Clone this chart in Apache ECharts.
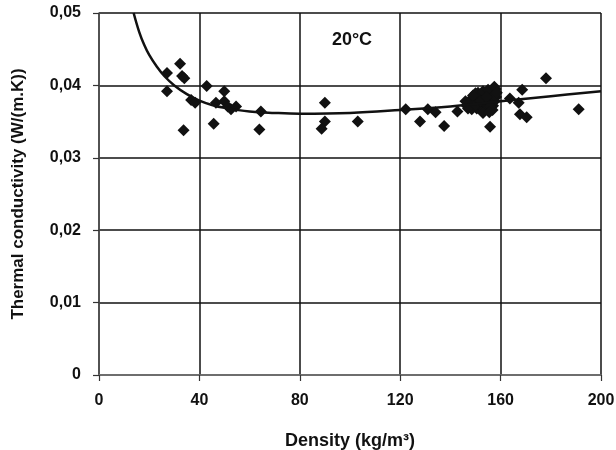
<!DOCTYPE html>
<html>
<head>
<meta charset="utf-8">
<script src="https://cdn.jsdelivr.net/npm/echarts@6/dist/echarts.min.js"></script>
<style>
  html, body { margin: 0; padding: 0; background: #fff; }
  #chart { width: 616px; height: 450px; }
</style>
</head>
<body>
<div id="chart"></div>
<script>
// Measured density (kg/m3) and thermal conductivity (W/(m.K)) at 20 °C
const densities = [
  32.3, 27.1, 33.1, 34.0, 27.1, 42.9, 49.9, 36.7, 38.3, 46.6,
  49.9, 51.3, 52.6, 54.6, 64.5, 33.7, 45.7, 63.9,
  90.0, 90.0, 88.7, 103.1, 122.2, 127.9, 131.0, 134.1, 137.5, 142.8,
  147.5, 148.2, 149.0, 149.5, 150.2, 150.5, 151.0, 151.5, 152.0, 152.3,
  152.8, 153.2, 153.5, 154.0, 154.2, 154.8, 155.2, 155.5, 155.8, 156.2,
  156.5, 157.0, 157.2, 157.6, 158.0, 158.2, 146.5, 150.0, 148.5,
  151.0, 153.0, 155.0, 157.5, 149.0, 146.0, 147.0, 150.0, 152.0, 154.5,
  156.8, 158.5, 156.0, 153.0,
  155.8, 155.5, 163.7, 168.6, 167.2, 167.7, 170.4, 178.1, 191.1
];
const conductivities = [
  0.0430, 0.0417, 0.0413, 0.0410, 0.0392, 0.0399, 0.0392, 0.0380, 0.0376, 0.0376,
  0.0378, 0.0371, 0.0367, 0.0371, 0.0364, 0.0338, 0.0347, 0.0339,
  0.0376, 0.0350, 0.0340, 0.0350, 0.0367, 0.0350, 0.0367, 0.0363, 0.0344, 0.0364,
  0.0376, 0.0381, 0.0371, 0.0378, 0.0384, 0.0368, 0.0375, 0.0380, 0.0386, 0.0371,
  0.0377, 0.0383, 0.0367, 0.0374, 0.0389, 0.0380, 0.0370, 0.0386, 0.0376, 0.0392,
  0.0382, 0.0372, 0.0388, 0.0378, 0.0395, 0.0384, 0.0372, 0.0389, 0.0367,
  0.0390, 0.0392, 0.0394, 0.0398, 0.0386, 0.0378, 0.0368, 0.0373, 0.0378, 0.0384,
  0.0366, 0.0390, 0.0371, 0.0362,
  0.0343, 0.0363, 0.0382, 0.0394, 0.0376, 0.0360, 0.0356, 0.0410, 0.0367
];

// Trend curve through the measurements
const trendX = [13.8, 16, 18, 20, 23, 26, 30, 35, 40, 45, 50, 60, 70, 80, 100, 120, 140, 160, 180, 200];
const trendY = [0.0500, 0.0474, 0.0456, 0.0442, 0.0426, 0.0413, 0.0400, 0.0388, 0.0379, 0.0373,
                0.0369, 0.0364, 0.0362, 0.0361, 0.0362, 0.0366, 0.0371, 0.0378, 0.0385, 0.0392];

const xTicks = { min: 0, max: 200, step: 40 };
const yTicks = { min: 0, max: 0.05, step: 0.01 };

const FONT = '"Liberation Sans", Arial, sans-serif';

const points = densities.map((d, i) => [d, conductivities[i]]);
const trend = trendX.map((x, i) => [x, trendY[i]]);

const chart = echarts.init(document.getElementById('chart'), null, { renderer: 'canvas' });

chart.setOption({
  backgroundColor: '#ffffff',
  animation: false,
  grid: { left: 99, right: 15, top: 13, bottom: 75, containLabel: false, outerBoundsMode: 'none' },
  xAxis: {
    type: 'value',
    min: xTicks.min, max: xTicks.max, interval: xTicks.step,
    name: 'Density (kg/m³)',
    nameLocation: 'middle',
    nameGap: 57,
    nameTextStyle: { fontFamily: FONT, fontWeight: 'bold', fontSize: 18, color: '#111' },
    axisLine: { show: true, onZero: false, lineStyle: { color: '#7a7a7a', width: 1.5 } },
    axisTick: { show: true, inside: false, length: 6, lineStyle: { color: '#333', width: 1.2 } },
    axisLabel: { margin: 18, fontFamily: FONT, fontWeight: 'bold', fontSize: 16, color: '#111' },
    splitLine: { show: true, lineStyle: { color: '#111', width: 1.5 } }
  },
  yAxis: {
    type: 'value',
    min: yTicks.min, max: yTicks.max, interval: yTicks.step,
    name: 'Thermal conductivity (W/(m.K))',
    nameLocation: 'middle',
    nameGap: 72,
    nameTextStyle: { fontFamily: FONT, fontWeight: 'bold', fontSize: 17, color: '#111' },
    axisLine: { show: true, lineStyle: { color: '#555', width: 1.5 } },
    axisTick: { show: true, inside: false, length: 6, lineStyle: { color: '#333', width: 1.2 } },
    axisLabel: {
      margin: 18, fontFamily: FONT, fontWeight: 'bold', fontSize: 16, color: '#111',
      formatter: v => v === 0 ? '0' : v.toFixed(2).replace('.', ',')
    },
    splitLine: { show: true, lineStyle: { color: '#111', width: 1.5 } }
  },
  graphic: [{
    type: 'text',
    x: 352, y: 40,
    style: {
      text: '20°C', fontFamily: FONT, fontWeight: 'bold', fontSize: 18,
      fill: '#111', align: 'center', verticalAlign: 'middle'
    }
  }],
  series: [
    {
      type: 'scatter',
      data: points,
      symbol: 'diamond',
      symbolSize: 12,
      itemStyle: { color: '#111', opacity: 1 },
      z: 3
    },
    {
      type: 'line',
      data: trend,
      smooth: 0.4,
      showSymbol: false,
      symbol: 'none',
      clip: true,
      lineStyle: { color: '#111', width: 2.5 },
      z: 4
    }
  ]
});
</script>
</body>
</html>
